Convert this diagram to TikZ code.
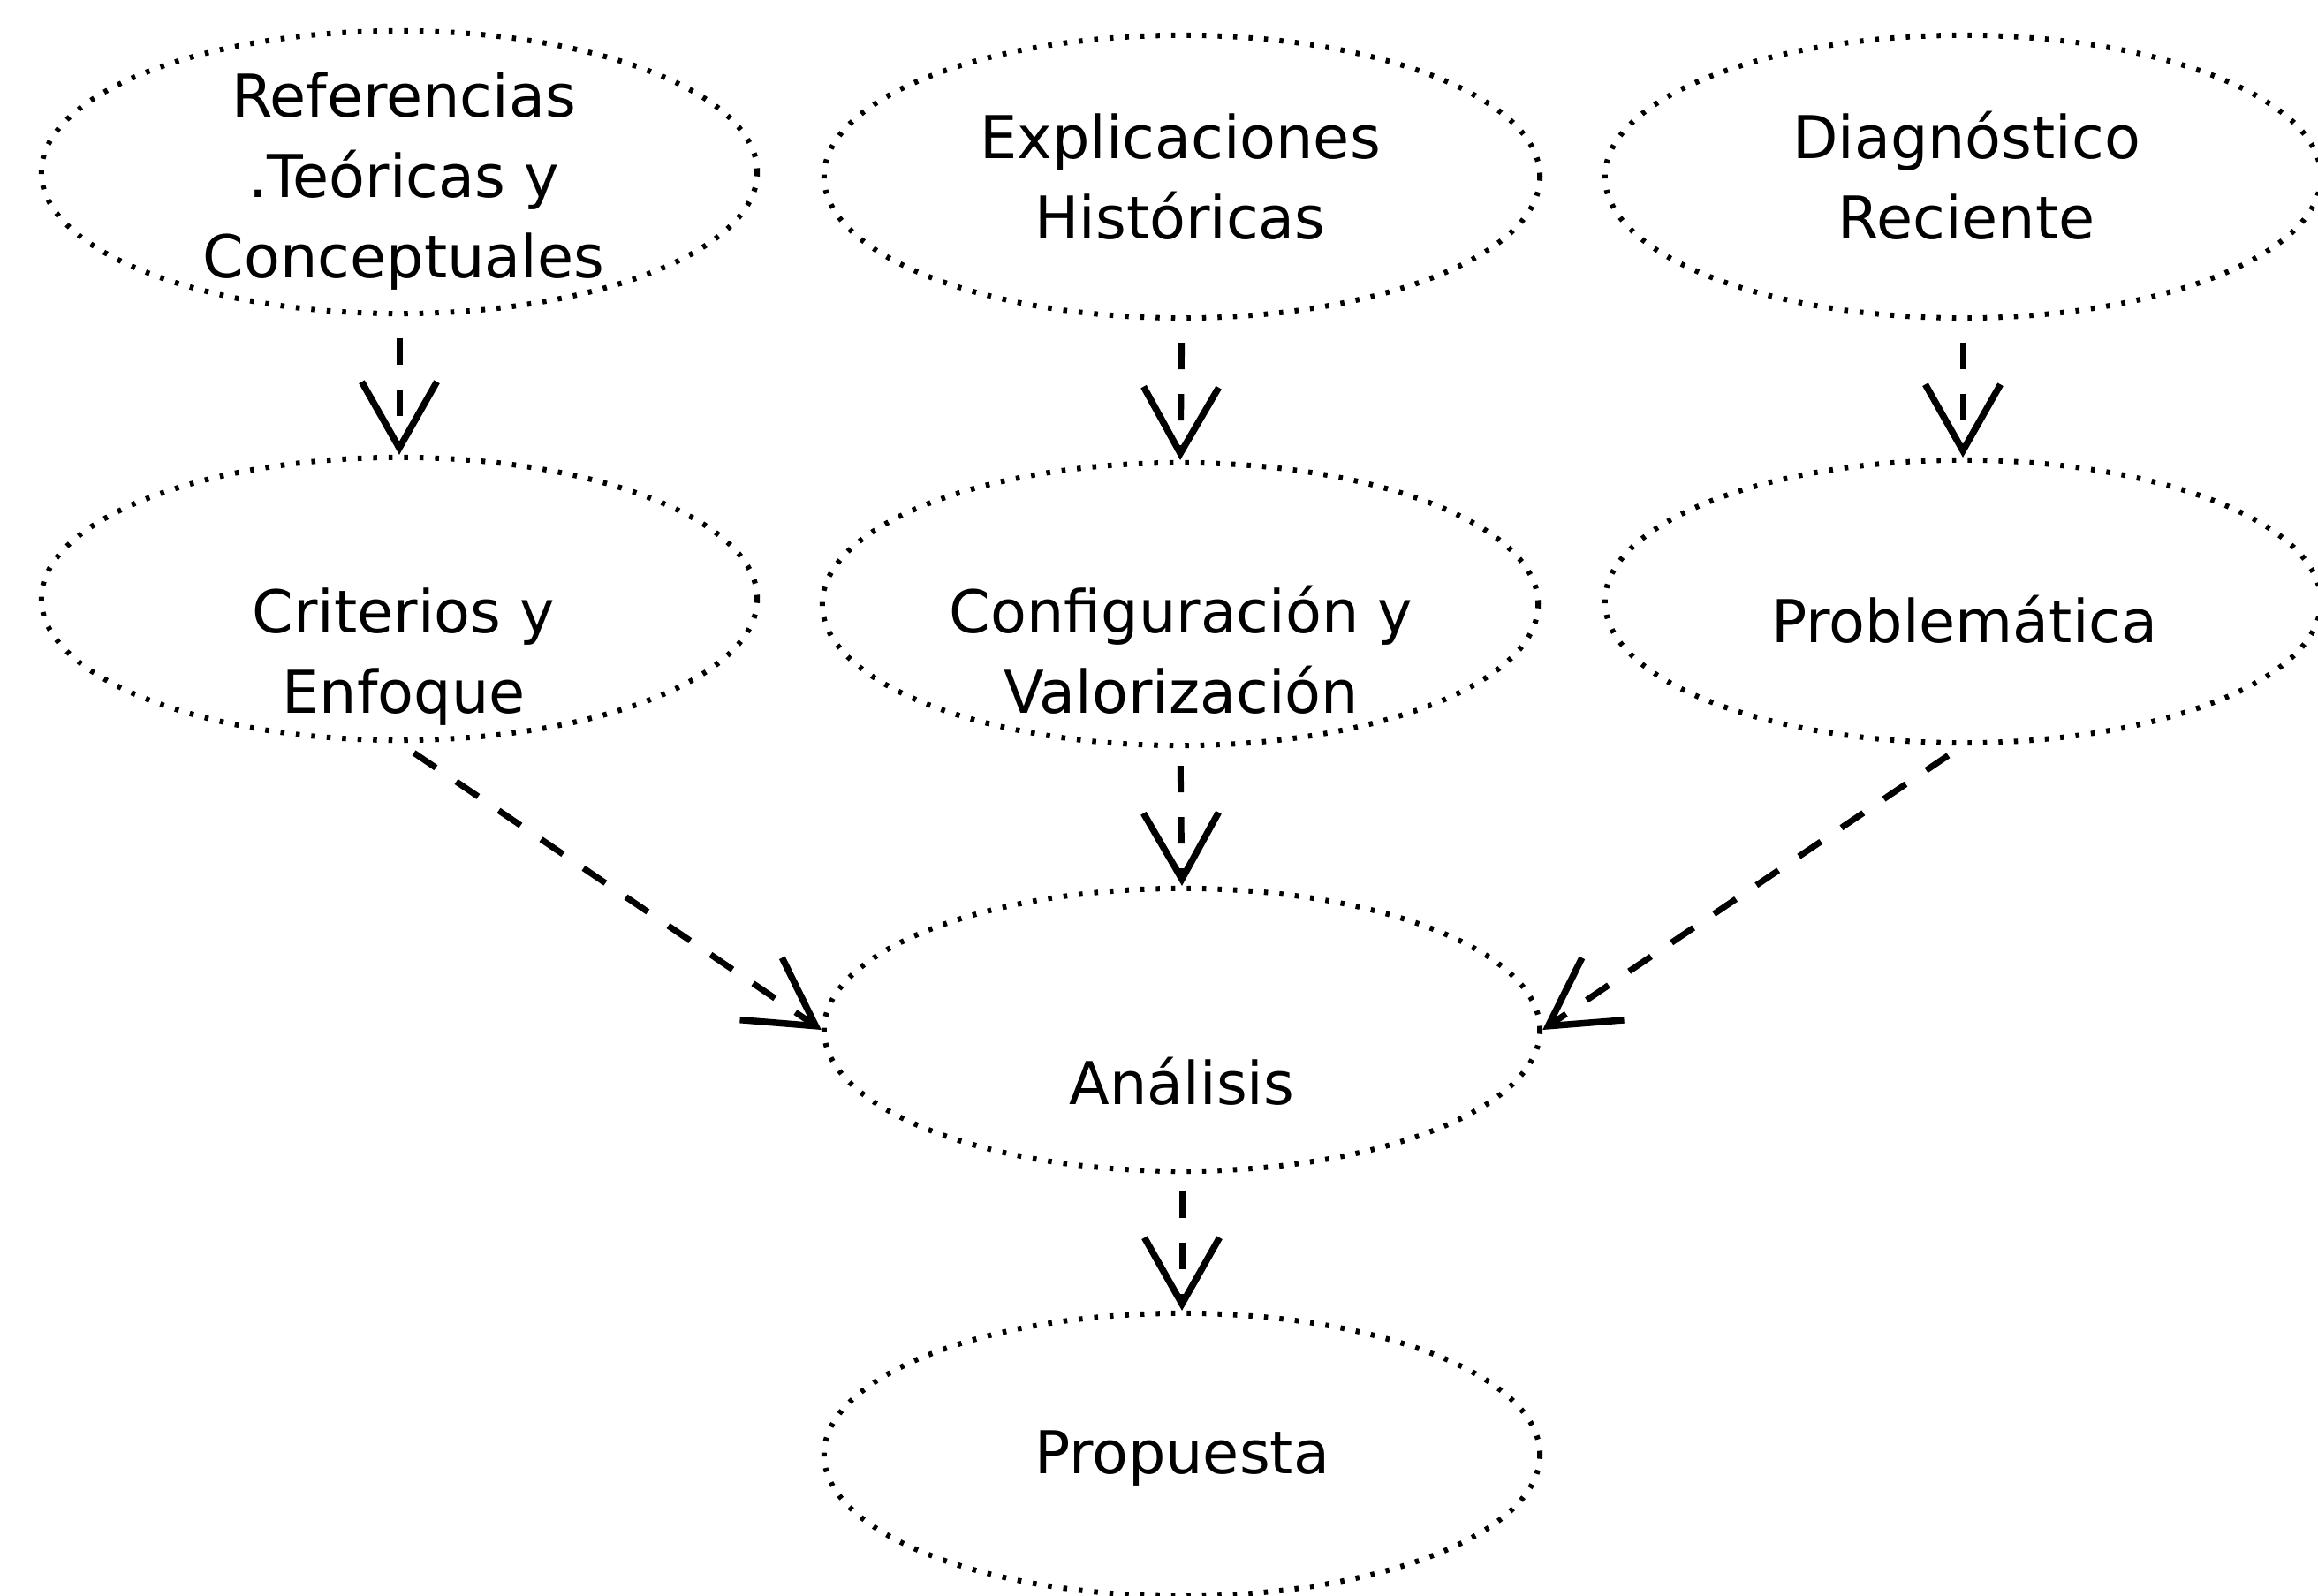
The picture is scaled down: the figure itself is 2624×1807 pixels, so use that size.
\documentclass[tikz,border=0pt]{standalone}
\usepackage{fontspec}
\setmainfont{DejaVu Sans}
\usetikzlibrary{shapes.geometric,arrows.meta}
\begin{document}
\begin{tikzpicture}[x=0.01cm,y=-0.01cm,
  bubble/.style={draw, ellipse, minimum width=8.1cm, minimum height=3.2cm, inner sep=0pt,
    line width=0.06cm, dash pattern=on 0.045cm off 0.13cm},
  txt/.style={anchor=base, align=center, font=\fontsize{19}{26}\selectfont, inner sep=0pt},
  flow/.style={line width=0.07cm, dash pattern=on 0.3cm off 0.28cm,
    -{Straight Barb[length=0.75cm,width=0.85cm,line width=0.075cm]}, shorten <=0.25cm}]
\useasboundingbox (0,0) rectangle (2624,1807);
% ellipses
\node[bubble] (e1) at (452,195) {};
\node[bubble] (e2) at (1338,200) {};
\node[bubble] (e3) at (2222,200) {};
\node[bubble] (e4) at (452,678) {};
\node[bubble] (e5) at (1336,684) {};
\node[bubble] (e6) at (2222,681) {};
\node[bubble] (e7) at (1338,1166) {};
\node[bubble] (e8) at (1338,1647) {};
% texts (base anchor = baseline of the last line)
\node[txt] (t1) at (457,315) {Referencias\\.Teóricas y\\Conceptuales};
\node[txt] (t2) at (1336,271) {Explicaciones\\Históricas};
\node[txt] (t3) at (2226,271) {Diagnóstico\\Reciente};
\node[txt] (t4) at (457,808) {Criterios y\\Enfoque};
\node[txt] (t5) at (1337,808) {Configuración y\\Valorización};
\node[txt] (t6) at (2224,728) {Problemática};
\node[txt] (t7) at (1338,1250) {Análisis};
\node[txt] (t8) at (1338,1668) {Propuesta};
% connectors
\draw[flow] (e1.south) -- (e4.north);
\draw[flow] (e2.south) -- (e5.north);
\draw[flow] (e3.south) -- (e6.north);
\draw[flow, shorten <=0.2cm] (e5.south) -- (e7.north);
\draw[flow, shorten <=0.2cm] (e7.south) -- (e8.north);
\draw[flow, shorten <=0.2cm] (e4.south) -- (e7.west);
\draw[flow, shorten <=0.2cm] (e6.south) -- (e7.east);
\end{tikzpicture}
\end{document}
